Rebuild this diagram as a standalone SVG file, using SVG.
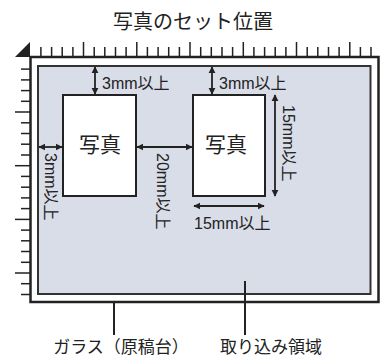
<svg xmlns="http://www.w3.org/2000/svg" width="384" height="358" viewBox="0 0 384 358">
<defs>
<marker id="ah" viewBox="0 0 10 10" refX="9" refY="5" markerWidth="4" markerHeight="4" orient="auto-start-reverse" markerUnits="strokeWidth">
<path d="M0,0 L10,5 L0,10 z" fill="#222"/>
</marker>
<style>
.t{font-family:"Noto Sans CJK JP","Liberation Sans",sans-serif;fill:#222}
.m{font-family:"Liberation Sans","Noto Sans CJK JP",sans-serif;font-size:16px;fill:#222}
.tk{stroke:#222;stroke-width:1.5}
.ar{stroke:#222;stroke-width:1.8;fill:none;marker-start:url(#ah);marker-end:url(#ah)}
.ld{stroke:#222;stroke-width:2}
.photo{fill:#fff;stroke:#222;stroke-width:2}
</style>
</defs>
<rect width="384" height="358" fill="#fff"/>
<text class="t" x="193" y="29" font-size="20" text-anchor="middle">写真のセット位置</text>
<g id="ruler">
<polygon points="15,57 30,57 30,42" fill="#222"/>
<g class="tk">
<line x1="40.9" y1="47" x2="40.9" y2="57"/><line x1="51.6" y1="47" x2="51.6" y2="57"/><line x1="62.2" y1="47" x2="62.2" y2="57"/><line x1="72.9" y1="47" x2="72.9" y2="57"/><line x1="83.5" y1="42" x2="83.5" y2="57"/>
<line x1="94.2" y1="47" x2="94.2" y2="57"/><line x1="104.8" y1="47" x2="104.8" y2="57"/><line x1="115.5" y1="47" x2="115.5" y2="57"/><line x1="126.1" y1="47" x2="126.1" y2="57"/><line x1="136.8" y1="42" x2="136.8" y2="57"/>
<line x1="147.4" y1="47" x2="147.4" y2="57"/><line x1="158.1" y1="47" x2="158.1" y2="57"/><line x1="168.7" y1="47" x2="168.7" y2="57"/><line x1="179.4" y1="47" x2="179.4" y2="57"/><line x1="190" y1="42" x2="190" y2="57"/>
<line x1="200.7" y1="47" x2="200.7" y2="57"/><line x1="211.3" y1="47" x2="211.3" y2="57"/><line x1="222" y1="47" x2="222" y2="57"/><line x1="232.6" y1="47" x2="232.6" y2="57"/><line x1="243.3" y1="42" x2="243.3" y2="57"/>
<line x1="253.9" y1="47" x2="253.9" y2="57"/><line x1="264.6" y1="47" x2="264.6" y2="57"/><line x1="275.2" y1="47" x2="275.2" y2="57"/><line x1="285.9" y1="47" x2="285.9" y2="57"/><line x1="296.5" y1="42" x2="296.5" y2="57"/>
<line x1="307.2" y1="47" x2="307.2" y2="57"/><line x1="317.8" y1="47" x2="317.8" y2="57"/><line x1="328.5" y1="47" x2="328.5" y2="57"/><line x1="339.1" y1="47" x2="339.1" y2="57"/><line x1="349.8" y1="42" x2="349.8" y2="57"/>
<line x1="360.4" y1="47" x2="360.4" y2="57"/><line x1="371" y1="47" x2="371" y2="57"/>
<line x1="21" y1="69.1" x2="30" y2="69.1"/><line x1="21" y1="79.9" x2="30" y2="79.9"/><line x1="21" y1="90.6" x2="30" y2="90.6"/><line x1="21" y1="101.3" x2="30" y2="101.3"/><line x1="15" y1="112" x2="30" y2="112"/>
<line x1="21" y1="122.8" x2="30" y2="122.8"/><line x1="21" y1="133.5" x2="30" y2="133.5"/><line x1="21" y1="144.2" x2="30" y2="144.2"/><line x1="21" y1="155" x2="30" y2="155"/><line x1="15" y1="165.7" x2="30" y2="165.7"/>
<line x1="21" y1="176.4" x2="30" y2="176.4"/><line x1="21" y1="187.2" x2="30" y2="187.2"/><line x1="21" y1="197.9" x2="30" y2="197.9"/><line x1="21" y1="208.6" x2="30" y2="208.6"/><line x1="15" y1="219.4" x2="30" y2="219.4"/>
<line x1="21" y1="230.1" x2="30" y2="230.1"/><line x1="21" y1="240.8" x2="30" y2="240.8"/><line x1="21" y1="251.5" x2="30" y2="251.5"/><line x1="21" y1="262.3" x2="30" y2="262.3"/><line x1="15" y1="273" x2="30" y2="273"/>
<line x1="21" y1="283.7" x2="30" y2="283.7"/><line x1="21" y1="294.5" x2="30" y2="294.5"/>
</g>
</g>
<g id="glass">
<rect x="30.5" y="57" width="348" height="245" fill="#fff" stroke="#222" stroke-width="2.5"/>
</g>
<g id="scan-area">
<rect x="38" y="66" width="332.5" height="228" fill="#d9dde8" stroke="#333" stroke-width="2"/>
</g>
<g id="photo1">
<rect class="photo" x="63" y="95" width="73" height="101"/>
<text class="t" x="100" y="152" font-size="21" text-anchor="middle">写真</text>
</g>
<g id="photo2">
<rect class="photo" x="193" y="95" width="72" height="101"/>
<text class="t" x="226" y="152" font-size="21" text-anchor="middle">写真</text>
</g>
<g id="connectors">
<line class="ar" x1="95" y1="67" x2="95" y2="94"/>
<line class="ar" x1="212" y1="67" x2="212" y2="94"/>
<line class="ar" x1="39" y1="147" x2="62" y2="147"/>
<line class="ar" x1="137" y1="147" x2="192" y2="147"/>
<line class="ar" x1="275" y1="95" x2="275" y2="196"/>
<line class="ar" x1="194" y1="206" x2="264" y2="206"/>
<line class="ld" x1="114" y1="303" x2="114" y2="335"/>
<line class="ld" x1="245" y1="281" x2="245" y2="335"/>
</g>
<g id="labels">
<text class="m" x="102" y="88.5">3mm以上</text>
<text class="m" x="219" y="88.5">3mm以上</text>
<text class="m" transform="translate(45,153) rotate(90)">3mm以上</text>
<text class="m" transform="translate(157,153) rotate(90)">20mm以上</text>
<text class="m" transform="translate(283,105) rotate(90)">15mm以上</text>
<text class="m" x="194" y="228.5">15mm以上</text>
<text class="t" x="121" y="353" font-size="17" text-anchor="middle">ガラス（原稿台）</text>
<text class="t" x="271" y="353" font-size="17" text-anchor="middle">取り込み領域</text>
</g>
</svg>
